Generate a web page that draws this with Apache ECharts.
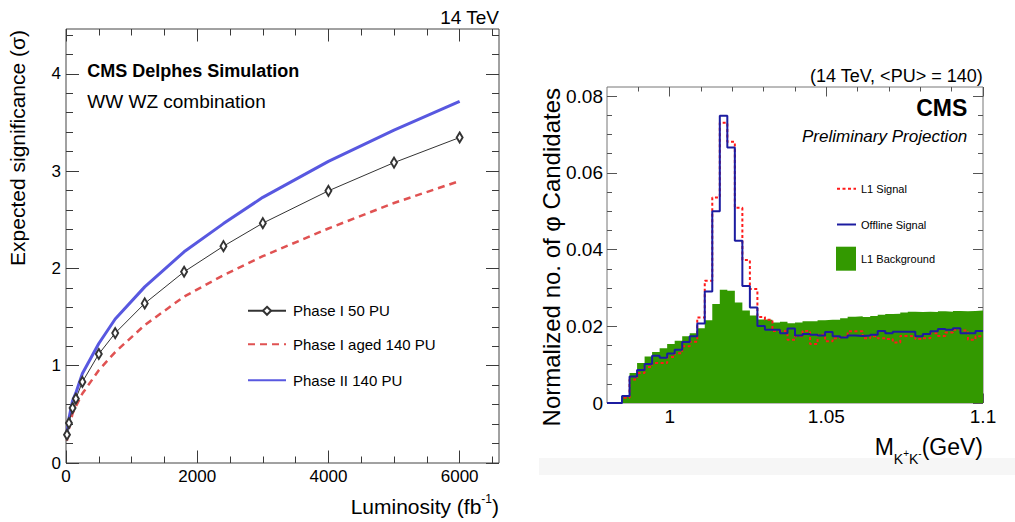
<!DOCTYPE html>
<html><head><meta charset="utf-8">
<script src="https://cdn.jsdelivr.net/npm/echarts@6/dist/echarts.min.js"></script>
<style>html,body{margin:0;padding:0;background:#fff}#c{width:1015px;height:522px}</style>
</head><body><div id="c"></div>
<script>
// ---------------- Left panel data ----------------
const luminosity = [15, 45, 100, 150, 250, 500, 750, 1200, 1800, 2400, 3000, 4000, 5000, 6000];
const phaseI50PU = [0.29, 0.41, 0.565, 0.66, 0.833, 1.12, 1.335, 1.64, 1.965, 2.228, 2.465, 2.797, 3.087, 3.345];
const phaseIAged140PU = [0.23, 0.35, 0.51, 0.58, 0.714, 0.954, 1.14, 1.417, 1.71, 1.93, 2.125, 2.41, 2.672, 2.898];
const phaseII140PU = [0.32, 0.46, 0.64, 0.72, 0.92, 1.228, 1.48, 1.81, 2.17, 2.46, 2.73, 3.10, 3.42, 3.715];
const lumiMajorTicks = [0, 2000, 4000, 6000];
const lumiMinorTicks = [500, 1000, 1500, 2500, 3000, 3500, 4500, 5000, 5500, 6500];
const sigMajorTicks = [0, 1, 2, 3, 4];
const sigMinorTicks = [0.2, 0.4, 0.6, 0.8, 1.2, 1.4, 1.6, 1.8, 2.2, 2.4, 2.6, 2.8, 3.2, 3.4, 3.6, 3.8, 4.2, 4.4];

// ---------------- Right panel data ----------------
const massBinStart = 0.98;
const massBinWidth = 0.0024;
const massMax = 1.1;
const l1Signal = [0, 0, 0.0014, 0.0061, 0.0078, 0.0094, 0.0104, 0.0104, 0.0120, 0.0130,
  0.0148, 0.0160, 0.0223, 0.0319, 0.0536, 0.0731, 0.0681, 0.0509, 0.0373, 0.0297,
  0.0224, 0.0217, 0.0188, 0.0187, 0.0165, 0.0174, 0.0188, 0.0154, 0.0178, 0.0161,
  0.0169, 0.0172, 0.0187, 0.0187, 0.0169, 0.0174, 0.0169, 0.0167, 0.0158, 0.0175,
  0.0174, 0.0167, 0.0169, 0.0182, 0.0175, 0.0184, 0.0191, 0.0189, 0.0165, 0.0174];
const offlineSignal = [0, 0, 0.0018, 0.0069, 0.0086, 0.0102, 0.0123, 0.0118, 0.0129, 0.0139,
  0.0159, 0.0174, 0.0207, 0.0291, 0.0500, 0.0749, 0.0666, 0.0423, 0.0305, 0.0249,
  0.0201, 0.0191, 0.0191, 0.0182, 0.0194, 0.0176, 0.0180, 0.0178, 0.0176, 0.0185,
  0.0174, 0.0171, 0.0176, 0.0175, 0.0176, 0.0178, 0.0188, 0.0182, 0.0186, 0.0186,
  0.0186, 0.0174, 0.0180, 0.0187, 0.0193, 0.0191, 0.0195, 0.0182, 0.0182, 0.0188];
const l1Background = [0, 0, 0.0016, 0.0078, 0.0104, 0.0121, 0.0133, 0.0143, 0.0154, 0.0162,
  0.0174, 0.0182, 0.0195, 0.0216, 0.0258, 0.0295, 0.0293, 0.0262, 0.0241, 0.0228,
  0.0218, 0.0217, 0.0210, 0.0212, 0.0208, 0.0210, 0.0213, 0.0213, 0.0216, 0.0217,
  0.0217, 0.0221, 0.0225, 0.0226, 0.0224, 0.0227, 0.0230, 0.0232, 0.0233, 0.0236,
  0.0238, 0.0237, 0.0238, 0.0237, 0.0239, 0.0238, 0.0240, 0.0239, 0.0240, 0.0241];
const massMajorTicks = [1, 1.05, 1.1];
const massMinorTicks = [0.99, 1.01, 1.02, 1.03, 1.04, 1.06, 1.07, 1.08, 1.09];
const normMajorTicks = [0, 0.02, 0.04, 0.06, 0.08];
const normMinorTicks = [0.005, 0.01, 0.015, 0.025, 0.03, 0.035, 0.045, 0.05, 0.055, 0.065, 0.07, 0.075];

// ---------------- Chart ----------------
const FONT = '"Liberation Sans", Arial, Helvetica, sans-serif';
const chart = echarts.init(document.getElementById('c'), null, {renderer: 'svg'});

function mkAxis(gridIndex, position, min, max, ticks, len, color, label) {
  return {
    type: 'value', gridIndex: gridIndex, position: position, min: min, max: max,
    axisLine: {show: false, onZero: false},
    splitLine: {show: false},
    axisTick: {show: true, inside: true, length: len, customValues: ticks, lineStyle: {color: color, width: 1}},
    axisLabel: label ? Object.assign({show: true, customValues: ticks, color: '#000', fontFamily: FONT}, label) : {show: false}
  };
}
const fmtNum = v => (Math.abs(v) < 1e-9 ? '0' : String(+(+v).toFixed(3)));

const lumiMax = 6600, sigMax = 4.46, normMax = 0.0824;
const LC = '#3a3a3a', RC = '#555';

const xAxes = [
  mkAxis(0, 'bottom', 0, lumiMax, lumiMajorTicks, 12.5, LC, {fontSize: 17, margin: 5, formatter: fmtNum}),
  mkAxis(0, 'bottom', 0, lumiMax, lumiMinorTicks, 6.5, LC, null),
  mkAxis(0, 'top', 0, lumiMax, lumiMajorTicks, 12.5, LC, null),
  mkAxis(0, 'top', 0, lumiMax, lumiMinorTicks, 6.5, LC, null),
  mkAxis(1, 'bottom', massBinStart, massMax, massMajorTicks, 9.5, RC, {fontSize: 19, margin: 4, formatter: fmtNum}),
  mkAxis(1, 'bottom', massBinStart, massMax, massMinorTicks, 4.5, RC, null),
  mkAxis(1, 'top', massBinStart, massMax, massMajorTicks, 9.5, RC, null),
  mkAxis(1, 'top', massBinStart, massMax, massMinorTicks, 4.5, RC, null)
];
const yAxes = [
  mkAxis(0, 'left', 0, sigMax, sigMajorTicks, 13, LC, {fontSize: 17, margin: 5, formatter: fmtNum}),
  mkAxis(0, 'left', 0, sigMax, sigMinorTicks, 7, LC, null),
  mkAxis(0, 'right', 0, sigMax, sigMajorTicks, 13, LC, null),
  mkAxis(0, 'right', 0, sigMax, sigMinorTicks, 7, LC, null),
  mkAxis(1, 'left', 0, normMax, normMajorTicks, 10, RC, {fontSize: 19, margin: 4, formatter: fmtNum}),
  mkAxis(1, 'left', 0, normMax, normMinorTicks, 5, RC, null),
  mkAxis(1, 'right', 0, normMax, normMajorTicks, 10, RC, null),
  mkAxis(1, 'right', 0, normMax, normMinorTicks, 5, RC, null)
];

const pairs = vals => luminosity.map((l, i) => [l, vals[i]]);
const binEdges = l1Background.map((_, i) => +(massBinStart + i * massBinWidth).toFixed(5));
const hist = vals => { const d = vals.map((v, i) => [binEdges[i], v]); d.push([massMax, vals[vals.length - 1]]); return d; };

const series = [
  {type: 'line', name: 'Phase I aged 140 PU', xAxisIndex: 0, yAxisIndex: 0, data: pairs(phaseIAged140PU),
   symbol: 'none', itemStyle: {color: '#e05252'}, lineStyle: {color: '#e05252', width: 2.5, type: [7, 5]}, z: 2},
  {type: 'line', name: 'Phase II 140 PU', xAxisIndex: 0, yAxisIndex: 0, data: pairs(phaseII140PU),
   symbol: 'none', itemStyle: {color: '#5858e0'}, lineStyle: {color: '#5858e0', width: 3}, z: 3},
  {type: 'line', name: 'Phase I 50 PU', xAxisIndex: 0, yAxisIndex: 0, data: pairs(phaseI50PU),
   symbol: 'emptyDiamond', symbolSize: [6, 10], itemStyle: {color: '#333', borderWidth: 1},
   lineStyle: {color: '#333', width: 1}, z: 4},
  {type: 'line', name: 'L1 Background', xAxisIndex: 4, yAxisIndex: 4, data: hist(l1Background), step: 'end',
   symbol: 'none', itemStyle: {color: '#339900'}, lineStyle: {width: 0, color: '#339900'},
   areaStyle: {color: '#339900', opacity: 1}, z: 2},
  {type: 'line', name: 'L1 Signal', xAxisIndex: 4, yAxisIndex: 4, data: hist(l1Signal), step: 'end',
   symbol: 'none', itemStyle: {color: '#ff1a1a'}, lineStyle: {color: '#ff1a1a', width: 2, type: [3, 2.5]}, z: 3},
  {type: 'line', name: 'Offline Signal', xAxisIndex: 4, yAxisIndex: 4, data: hist(offlineSignal), step: 'end',
   symbol: 'none', itemStyle: {color: '#1c1ca0'}, lineStyle: {color: '#1c1ca0', width: 2}, z: 4}
];

function leg(name, left, top, w, h, fs, extra) {
  return Object.assign({
    show: true, data: [{name: name}], left: left, top: top, padding: 0, itemWidth: w, itemHeight: h,
    selectedMode: false, orient: 'vertical',
    textStyle: {fontFamily: FONT, fontSize: fs, color: '#000'}
  }, extra || {});
}
const leftText = {fontFamily: FONT, fontSize: 15, color: '#000', padding: [0, 0, 0, 2]};
const hideSym = {itemStyle: {opacity: 0}};

const legends = [
  leg('Phase I 50 PU', 247, 303.3, 38, 10, 15, {textStyle: leftText}),
  leg('Phase I aged 140 PU', 247, 336.7, 38, 10, 15, Object.assign({textStyle: leftText}, hideSym)),
  leg('Phase II 140 PU', 247, 372.7, 38, 10, 15, Object.assign({textStyle: leftText}, hideSym)),
  leg('L1 Signal', 836, 183.3, 19, 10, 11, hideSym),
  leg('Offline Signal', 836, 219, 19, 10, 11, hideSym),
  leg('L1 Background', 836, 246.7, 20, 24, 11, {icon: 'rect'})
];

const txt = (x, y, text, opts) => ({
  type: 'text', x: x, y: y, z: 100, silent: true,
  style: Object.assign({text: text, fontFamily: FONT, fill: '#000', align: 'left', verticalAlign: 'middle'}, opts)
});

const graphics = [
  {type: 'rect', shape: {x: 539, y: 458, width: 476, height: 17}, style: {fill: '#f6f6f6'}, z: -10, silent: true},
  txt(499, 17, '14 TeV', {fontSize: 19, align: 'right'}),
  txt(87.3, 70.7, 'CMS Delphes Simulation', {fontSize: 18, fontWeight: 'bold'}),
  txt(87.3, 101.7, 'WW WZ combination', {fontSize: 19}),
  Object.assign(txt(17.5, 30, 'Expected significance (σ)', {fontSize: 21, align: 'right'}), {rotation: Math.PI / 2}),
  txt(499, 506, 'Luminosity (fb{sup|-1})', {fontSize: 21, align: 'right', lineHeight: 26,
    rich: {sup: {fontSize: 12, lineHeight: 8, verticalAlign: 'top', fontFamily: FONT}}}),
  txt(982.7, 76, '(14 TeV, <PU> = 140)', {fontSize: 18, align: 'right'}),
  txt(967.3, 108.3, 'CMS', {fontSize: 23, fontWeight: 'bold', align: 'right'}),
  txt(967.3, 136, 'Preliminary Projection', {fontSize: 17, fontStyle: 'italic', align: 'right'}),
  Object.assign(txt(551.7, 88, 'Normalized no. of φ Candidates', {fontSize: 24, align: 'right'}), {rotation: Math.PI / 2}),
  txt(983, 447, 'M{k|K}{p|+}{k|K}{p|-}(GeV)', {fontSize: 23, align: 'right', lineHeight: 38,
    rich: {k: {fontSize: 14, lineHeight: 14, verticalAlign: 'bottom', fontFamily: FONT},
           p: {fontSize: 10, lineHeight: 10, verticalAlign: 'bottom', padding: [0, 0, 8, 0], fontFamily: FONT}}})
];

chart.setOption({
  animation: false,
  backgroundColor: '#ffffff',
  grid: [
    {left: 66, top: 29, width: 433, height: 434, show: true, borderColor: '#444', borderWidth: 1, backgroundColor: 'transparent'},
    {left: 607, top: 87, width: 376, height: 316, show: true, borderColor: '#777', borderWidth: 1, backgroundColor: 'transparent'}
  ],
  xAxis: xAxes,
  yAxis: yAxes,
  legend: legends,
  series: series,
  graphic: graphics
});
</script>
</body></html>
